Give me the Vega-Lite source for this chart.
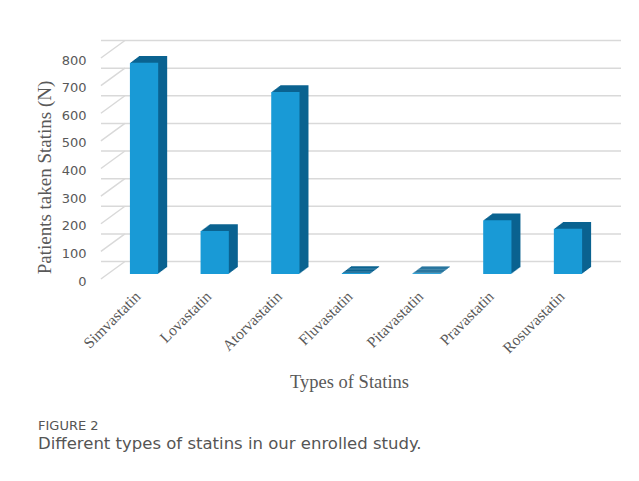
{
  "$schema": "https://vega.github.io/schema/vega-lite/v6.json",
  "width": 496,
  "height": 221,
  "padding": {"left": 34, "top": 37, "right": 5, "bottom": 5},
  "background": "white",
  "config": {"view": {"stroke": null}},
  "title": {
    "text": "FIGURE 2",
    "subtitle": "Different types of statins in our enrolled study.",
    "orient": "bottom",
    "anchor": "start",
    "frame": "bounds",
    "offset": 29,
    "dx": 3,
    "font": "DejaVu Sans",
    "fontSize": 13,
    "fontWeight": "normal",
    "color": "#555555",
    "subtitleFont": "DejaVu Sans",
    "subtitleFontSize": 16.5,
    "subtitleColor": "#555555",
    "subtitlePadding": 3
  },
  "datasets": {
    "statins": [
      {"type": "Simvastatin", "n": 765},
      {"type": "Lovastatin", "n": 156},
      {"type": "Atorvastatin", "n": 659},
      {"type": "Fluvastatin", "n": 4},
      {"type": "Pitavastatin", "n": 3},
      {"type": "Pravastatin", "n": 195},
      {"type": "Rosuvastatin", "n": 164}
    ],
    "grid": [
      {"v": 0}, {"v": 100}, {"v": 200}, {"v": 300}, {"v": 400},
      {"v": 500}, {"v": 600}, {"v": 700}, {"v": 800}
    ]
  },
  "encoding": {
    "x": {
      "field": "type",
      "type": "nominal",
      "sort": null,
      "scale": {"paddingInner": 0.6, "paddingOuter": 0.31, "align": 0.66},
      "axis": {
        "title": "Types of Statins",
        "titleFont": "Liberation Serif",
        "titleFontSize": 18.5,
        "titleFontWeight": "normal",
        "titleColor": "#595959",
        "titleY": 107,
        "titleBaseline": "middle",
        "labelAngle": -45,
        "labelAlign": "right",
        "labelBaseline": "middle",
        "labelFont": "Liberation Serif",
        "labelFontSize": 15.5,
        "labelColor": "#595959",
        "labelOffset": -6,
        "labelPadding": 19.5,
        "ticks": false,
        "domain": false,
        "grid": false
      }
    },
    "y": {
      "field": "n",
      "type": "quantitative",
      "scale": {"domain": [0, 800], "nice": false},
      "axis": {
        "values": [0, 100, 200, 300, 400, 500, 600, 700, 800],
        "title": "Patients taken Statins  (N)",
        "titleFont": "Liberation Serif",
        "titleFontSize": 19,
        "titleFontWeight": "normal",
        "titleColor": "#595959",
        "titleX": -57,
        "titleY": 124,
        "titleAngle": -90,
        "titleAlign": "center",
        "titleBaseline": "middle",
        "labelFont": "DejaVu Sans",
        "labelFontSize": 13,
        "labelColor": "#595959",
        "labelPadding": 15,
        "labelOffset": 7,
        "ticks": false,
        "domain": false,
        "grid": false
      }
    }
  },
  "layer": [
    {
      "data": {"name": "grid"},
      "mark": {"type": "rule", "color": "#d9d9d9", "strokeWidth": 1.5, "xOffset": 24, "yOffset": -12.5},
      "encoding": {"y": {"field": "v", "type": "quantitative"}, "x": null}
    },
    {
      "data": {"name": "grid"},
      "mark": {"type": "point", "shape": "M-1,0.729L1,-0.729", "size": 576, "filled": false, "stroke": "#d9d9d9", "strokeWidth": 1.5, "opacity": 1, "xOffset": -17, "yOffset": -3.75},
      "encoding": {
        "y": {"field": "v", "type": "quantitative"},
        "x": {"datum": "Simvastatin", "bandPosition": 0}
      }
    },
    {"data": {"name": "statins"}, "mark": {"type": "bar", "color": "#0b6391", "xOffset": 9, "yOffset": -6.7}},
    {"data": {"name": "statins"}, "mark": {"type": "bar", "color": "#0b6391", "xOffset": 8, "yOffset": -6}},
    {"data": {"name": "statins"}, "mark": {"type": "bar", "color": "#0b6391", "xOffset": 7, "yOffset": -5.2}},
    {"data": {"name": "statins"}, "mark": {"type": "bar", "color": "#0b6391", "xOffset": 6, "yOffset": -4.5}},
    {"data": {"name": "statins"}, "mark": {"type": "bar", "color": "#0b6391", "xOffset": 5, "yOffset": -3.7}},
    {"data": {"name": "statins"}, "mark": {"type": "bar", "color": "#0b6391", "xOffset": 4, "yOffset": -3}},
    {"data": {"name": "statins"}, "mark": {"type": "bar", "color": "#0b6391", "xOffset": 3, "yOffset": -2.2}},
    {"data": {"name": "statins"}, "mark": {"type": "bar", "color": "#0b6391", "xOffset": 2, "yOffset": -1.5}},
    {"data": {"name": "statins"}, "mark": {"type": "bar", "color": "#0b6391", "xOffset": 1, "yOffset": -0.7}},
    {"data": {"name": "statins"}, "mark": {"type": "bar", "color": "#199ad6"}}
  ]
}
